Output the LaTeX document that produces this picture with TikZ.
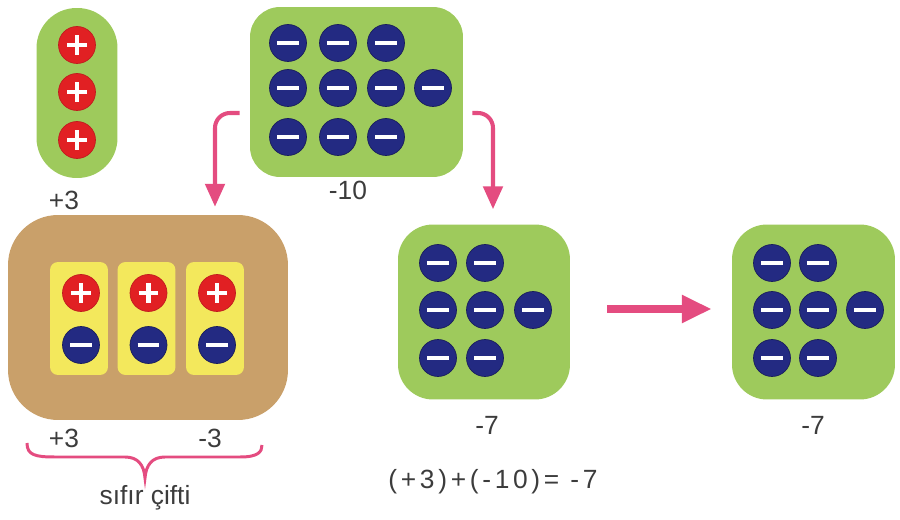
\documentclass[tikz,border=0pt]{standalone}
\usepackage{fontspec}
\setmainfont{Liberation Sans}
\newfontfamily\spacedfont[LetterSpace=14]{Liberation Sans}
\usepackage{tikz}
\usetikzlibrary{arrows.meta}
\definecolor{boxgreen}{RGB}{158,202,92}
\definecolor{boxbrown}{RGB}{201,160,106}
\definecolor{pairyellow}{RGB}{243,232,92}
\definecolor{ionblue}{RGB}{35,42,130}
\definecolor{ionred}{RGB}{225,32,35}
\definecolor{arrowpink}{RGB}{228,76,128}
\definecolor{textgray}{RGB}{60,60,60}
\tikzset{
    greenbox/.style={fill=boxgreen, inner sep=0pt},
    ion/.style={circle, inner sep=0pt, minimum size=0.74cm},
    poscharge/.style={ion, fill=ionred, draw=ionred!85!black, line width=0.4pt,
        path picture={
            \draw[white, line width=2.4pt] ([xshift=-0.2cm]path picture bounding box.center) -- ([xshift=0.2cm]path picture bounding box.center);
            \draw[white, line width=2.4pt] ([yshift=-0.2cm]path picture bounding box.center) -- ([yshift=0.2cm]path picture bounding box.center);
        }},
    negcharge/.style={ion, fill=ionblue, draw=ionblue!70!black, line width=0.4pt,
        path picture={
            \draw[white, line width=2.4pt] ([xshift=-0.22cm]path picture bounding box.center) -- ([xshift=0.22cm]path picture bounding box.center);
        }},
    lbl/.style={text=textgray, inner sep=0pt, font=\fontsize{15}{18}\selectfont},
    bendarrow/.style={draw=arrowpink, line width=2.3pt, rounded corners=0.3cm, -{Triangle[length=13pt,width=11pt]}},
    bigarrow/.style={draw=arrowpink, line width=4.5pt, -{Triangle[length=17pt,width=15pt]}},
}
\begin{document}
\begin{tikzpicture}[x=0.02cm, y=-0.02cm]
\useasboundingbox (0,0) rectangle (900,520);

% +3 pill
\node[greenbox, minimum width=1.62cm, minimum height=3.4cm, rounded corners=0.8cm] (box3) at (77,93) {};
\foreach \y [count=\i] in {45,92,140}
    \node[poscharge] (p3-\i) at (77,\y) {};
\node[lbl] (lbl3) at (64,200) {+3};

% -10 box
\node[greenbox, minimum width=4.26cm, minimum height=3.4cm, rounded corners=0.6cm] (box10) at (356.5,92) {};
\foreach \x/\y [count=\i] in {288/43,338/43,386/43,288/88,338/88,386/88,433/88,288/137,338/137,386/137}
    \node[negcharge] (m10-\i) at (\x,\y) {};
\node[lbl] (lbl10) at (348,190) {-10};

% zero pairs
\node[fill=boxbrown, minimum width=5.6cm, minimum height=4.1cm, rounded corners=1cm] (boxzero) at (148,317.5) {};
\foreach \x [count=\i] in {79,146.5,215} {
    \node[fill=pairyellow, minimum width=1.16cm, minimum height=2.26cm, rounded corners=0.16cm] (pair-\i) at (\x,318.5) {};
    \node[poscharge] (pp-\i) at (\x+2,293) {};
    \node[negcharge] (pm-\i) at (\x+2,345) {};
}
\node[lbl] (lblp) at (64,438) {+3};
\node[lbl] (lblm) at (210,438) {-3};
\draw[arrowpink, line width=1.7pt] (27,443) .. controls (27,455) and (35,457) .. (55,457) -- (125,457)
    .. controls (138,457) and (144,465) .. (145,478) .. controls (146,465) and (152,457) .. (165,457)
    -- (240,457) .. controls (258,457) and (262,452) .. (262,445);
\node[lbl] (lblzero) at (145,498) {sıfır çifti};

% -7 boxes
\node[greenbox, minimum width=3.44cm, minimum height=3.5cm, rounded corners=0.7cm] (box7a) at (484,312) {};
\foreach \x/\y [count=\i] in {438/263,485/263,438/310,485/310,533/310,438/358,485/358}
    \node[negcharge] (ma-\i) at (\x,\y) {};
\node[lbl] (lbl7a) at (487,425) {-7};
\node[lbl] (sum) at (493,482) {\spacedfont (+3)+(-10)= -7};

\node[greenbox, minimum width=3.26cm, minimum height=3.5cm, rounded corners=0.7cm] (box7b) at (813.5,312) {};
\foreach \x/\y [count=\i] in {772/263,818/263,772/310,818/310,865/310,772/358,818/358}
    \node[negcharge] (mb-\i) at (\x,\y) {};
\node[lbl] (lbl7b) at (813,425) {-7};

% arrows
\draw[bendarrow] ([shift={(-10,21)}]box10.west) -| ([shift={(67,-8)}]boxzero.north);
\draw[bendarrow] ([shift={(9,21)}]box10.east) -| ([shift={(9,-15)}]box7a.north);
\draw[bigarrow] ([shift={(37,-3)}]box7a.east) -- ([shift={(-20,-3)}]box7b.west);
\end{tikzpicture}
\end{document}
